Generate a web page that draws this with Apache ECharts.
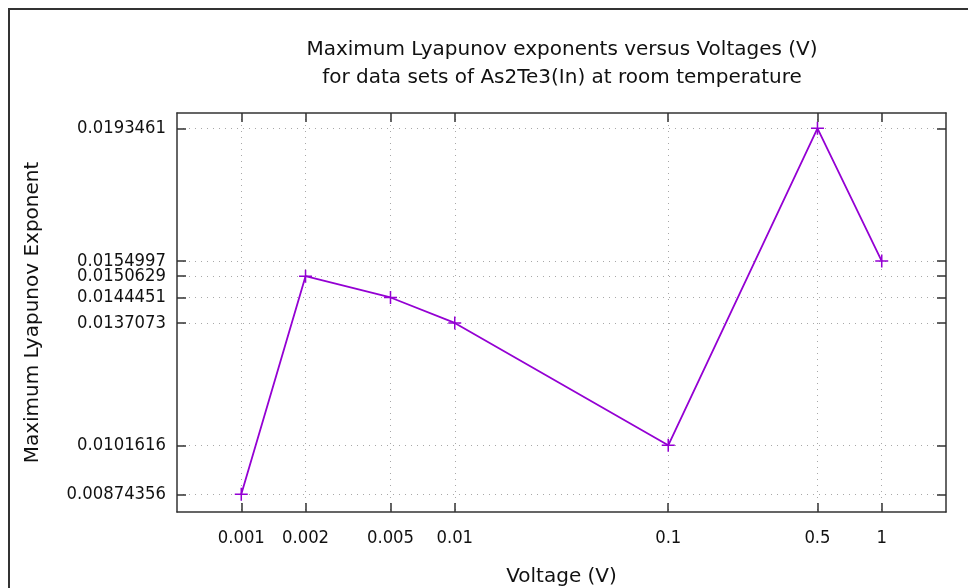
<!DOCTYPE html>
<html>
<head>
<meta charset="utf-8">
<script src="https://cdn.jsdelivr.net/npm/echarts@6/dist/echarts.min.js"></script>
<style>
  html, body { margin: 0; padding: 0; background: #fff; }
  #chart { width: 968px; height: 588px; }
</style>
</head>
<body>
<div id="chart"></div>
<script>
// Applied voltages (V) and the maximum Lyapunov exponent measured at each
const voltages = [0.001, 0.002, 0.005, 0.01, 0.1, 0.5, 1];
const exponents = [0.00874356, 0.0150629, 0.0144451, 0.0137073, 0.0101616, 0.0193461, 0.0154997];

// Tick marks sit at the measured points themselves
const xTicks = voltages.slice();
const yTicks = exponents.slice().sort((a, b) => a - b);

const NUM_FONT = '"DejaVu Sans Condensed", "DejaVu Sans", sans-serif';
const TXT_FONT = '"DejaVu Sans", "Liberation Sans", sans-serif';
const INK = '#111';
const FRAME = '#333';
const LINE = '#9400d3';

const fmt = v => String(+(+v).toPrecision(7));

const plus = 'path://M5.3,0 H6.7 V5.3 H12 V6.7 H6.7 V12 H5.3 V6.7 H0 V5.3 H5.3 Z';

const xRange = { min: 0.0005, max: 2 };
const yRange = { min: 0.00823, max: 0.01979 };

function xAxisDef(pos, showLabels) {
  return {
    type: 'log', logBase: 10, position: pos,
    min: xRange.min, max: xRange.max,
    axisLine: { show: true, onZero: false, lineStyle: { color: FRAME, width: 1.5 } },
    axisTick: { show: true, inside: true, length: 9, customValues: xTicks,
                lineStyle: { color: FRAME, width: 1.5 } },
    axisLabel: { show: showLabels, customValues: xTicks, formatter: fmt, margin: 17,
                 fontFamily: NUM_FONT, fontSize: 18.3, color: INK },
    splitLine: { show: showLabels, lineStyle: { color: '#a8a8a8', type: [1, 5], width: 1 } },
    minorTick: { show: false }, minorSplitLine: { show: false }
  };
}

function yAxisDef(pos, showLabels) {
  return {
    type: 'value', position: pos,
    min: yRange.min, max: yRange.max,
    axisLine: { show: true, onZero: false, lineStyle: { color: FRAME, width: 1.5 } },
    axisTick: { show: true, inside: true, length: 9, customValues: yTicks,
                lineStyle: { color: FRAME, width: 1.5 } },
    axisLabel: { show: showLabels, customValues: yTicks, formatter: fmt, margin: 11,
                 padding: [3, 0, 0, 0],
                 fontFamily: NUM_FONT, fontSize: 18.3, color: INK },
    splitLine: { show: showLabels, lineStyle: { color: '#a8a8a8', type: [1, 5], width: 1 } }
  };
}

const xMain = Object.assign(xAxisDef('bottom', true), {
  name: 'Voltage (V)', nameLocation: 'middle', nameGap: 55,
  nameTextStyle: { fontFamily: TXT_FONT, fontSize: 20, color: INK }
});
const yMain = Object.assign(yAxisDef('left', true), {
  name: 'Maximum Lyapunov Exponent', nameLocation: 'middle', nameGap: 134,
  nameTextStyle: { fontFamily: TXT_FONT, fontSize: 20, color: INK }
});

const chart = echarts.init(document.getElementById('chart'), null, { renderer: 'canvas' });
chart.setOption({
  animation: false,
  backgroundColor: '#fff',
  title: {
    text: 'Maximum Lyapunov exponents versus Voltages (V)\nfor data sets of As2Te3(In) at room temperature',
    left: 557, top: 31, textAlign: 'center',
    textStyle: { fontFamily: TXT_FONT, fontSize: 20, fontWeight: 'normal', color: INK, lineHeight: 28 }
  },
  grid: { left: 177, top: 113, right: 22, bottom: 76, containLabel: false, outerBoundsMode: 'none' },
  xAxis: [xMain, xAxisDef('top', false)],
  yAxis: [yMain, yAxisDef('right', false)],
  graphic: [{
    type: 'rect', silent: true, z: 100,
    shape: { x: 9, y: 9, width: 1200, height: 900 },
    style: { fill: 'none', stroke: FRAME, lineWidth: 2 }
  }],
  series: [{
    type: 'line',
    xAxisIndex: 0, yAxisIndex: 0,
    data: voltages.map((v, i) => [v, exponents[i]]),
    lineStyle: { color: LINE, width: 1.8 },
    itemStyle: { color: LINE },
    symbol: plus, symbolSize: 13, showSymbol: true,
    z: 5
  }]
});
</script>
</body>
</html>
